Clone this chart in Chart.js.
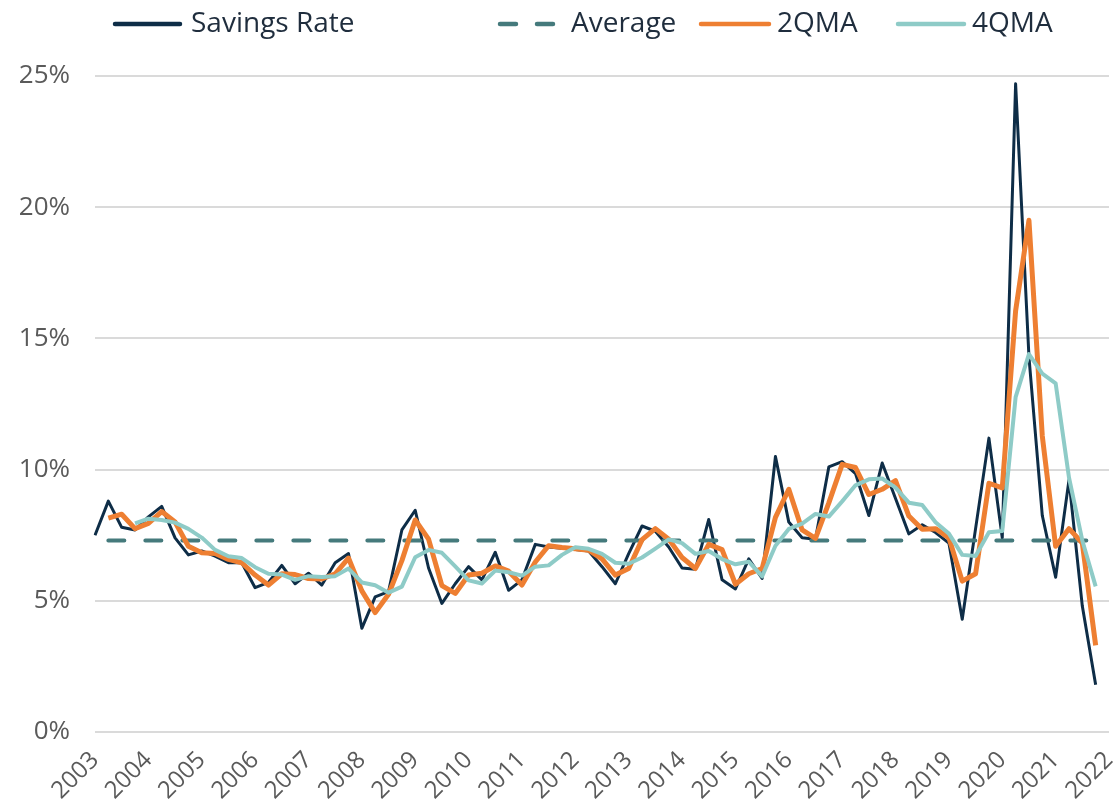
<!DOCTYPE html>
<html>
<head>
<meta charset="utf-8">
<script src="https://cdn.jsdelivr.net/npm/chart.js@4.4.1/dist/chart.umd.min.js"></script>
<style>
  html, body { margin: 0; padding: 0; background: #ffffff; }
  #wrap { position: relative; width: 1117px; height: 807px; }
</style>
</head>
<body>
<div id="wrap"><canvas id="c" width="1117" height="807"></canvas></div>
<script>
// ---- data ----
const years = [2003, 2004, 2005, 2006, 2007, 2008, 2009, 2010, 2011, 2012,
               2013, 2014, 2015, 2016, 2017, 2018, 2019, 2020, 2021, 2022];
const quarterNames = ['Q1', 'Q2', 'Q3', 'Q4'];
const quarterLabels = years.flatMap(y => quarterNames.map(q => y + ' ' + q)).slice(0, 77);

const savingsRate = [7.5, 8.8, 7.8, 7.7, 8.2, 8.6, 7.4, 6.75, 6.9, 6.7,
  6.45, 6.45, 5.5, 5.7, 6.35, 5.65, 6.05, 5.6, 6.45, 6.8,
  3.95, 5.15, 5.35, 7.7, 8.45, 6.25, 4.9, 5.65, 6.3, 5.8,
  6.85, 5.4, 5.8, 7.15, 7.05, 7.0, 6.95, 6.9, 6.3, 5.65,
  6.8, 7.85, 7.65, 7.05, 6.25, 6.2, 8.1, 5.8, 5.45, 6.6,
  5.85, 10.5, 8.0, 7.4, 7.35, 10.1, 10.3, 9.85, 8.25, 10.25,
  8.9, 7.55, 7.9, 7.6, 7.2, 4.3, 7.75, 11.2, 7.4, 24.7,
  14.3, 8.25, 5.9, 9.6, 4.8, 1.8];

const qma2 = [null, 8.15, 8.3, 7.75, 7.95, 8.4, 8.0, 7.08, 6.83, 6.8,
  6.58, 6.45, 5.98, 5.6, 6.03, 6.0, 5.85, 5.83, 6.03, 6.63,
  5.38, 4.55, 5.25, 6.53, 8.08, 7.35, 5.58, 5.28, 5.98, 6.05,
  6.33, 6.13, 5.6, 6.48, 7.1, 7.03, 6.98, 6.93, 6.6, 5.98,
  6.23, 7.33, 7.75, 7.35, 6.65, 6.23, 7.15, 6.95, 5.63, 6.03,
  6.23, 8.18, 9.25, 7.7, 7.38, 8.73, 10.2, 10.08, 9.05, 9.25,
  9.58, 8.23, 7.73, 7.75, 7.4, 5.75, 6.03, 9.48, 9.3, 16.05,
  19.5, 11.28, 7.08, 7.75, 7.2, 3.3];

const qma4 = [null, null, null, 7.95, 8.13, 8.08, 7.98, 7.74, 7.41, 6.94,
  6.7, 6.63, 6.28, 6.03, 6.0, 5.8, 5.94, 5.91, 5.94, 6.23,
  5.7, 5.59, 5.31, 5.54, 6.66, 6.94, 6.83, 6.31, 5.78, 5.66,
  6.15, 6.09, 5.96, 6.3, 6.35, 6.75, 7.04, 6.98, 6.79, 6.45,
  6.41, 6.65, 6.99, 7.34, 7.2, 6.79, 6.9, 6.59, 6.39, 6.49,
  5.93, 7.1, 7.74, 7.94, 8.31, 8.21, 8.79, 9.4, 9.63, 9.66,
  9.31, 8.74, 8.65, 7.99, 7.56, 6.75, 6.71, 7.61, 7.66, 12.76,
  14.4, 13.66, 13.29, 9.7, 7.3, 5.55];

const averageRate = 7.3;
const averageFrom = 1, averageTo = 75;   // quarter index span of the average line
const averageSeries = quarterLabels.map((_, i) => (i >= averageFrom && i <= averageTo) ? averageRate : null);

const seriesNames = ['Savings Rate', 'Average', '2QMA', '4QMA'];
const yTickValues = [0, 5, 10, 15, 20, 25];

// ---- styles ----
const FONT = "'Open Sans', 'Noto Sans', sans-serif";
const COLORS = { sr: '#0e2d47', avg: '#457a7c', q2: '#ee7f32', q4: '#8ecbc7' };

// custom legend drawn at fixed slots (like the original)
const legendSlots = [
  { x0: 115, x1: 180, tx: 191 },
  { x0: 500, x1: 553, tx: 571 },
  { x0: 701, x1: 769, tx: 777 },
  { x0: 898, x1: 964, tx: 972 }
];
const legendPlugin = {
  id: 'slotLegend',
  afterDraw(chart) {
    const ctx = chart.ctx;
    const y = 24;
    chart.data.datasets.forEach((ds, i) => {
      const s = legendSlots[i];
      ctx.save();
      ctx.strokeStyle = ds.borderColor;
      ctx.lineWidth = 4.5;
      ctx.lineCap = 'round';
      ctx.setLineDash(ds.borderDash || []);
      ctx.beginPath();
      ctx.moveTo(s.x0, y);
      ctx.lineTo(s.x1, y);
      ctx.stroke();
      ctx.setLineDash([]);
      ctx.fillStyle = '#1f2d3d';
      ctx.font = '28px ' + FONT;
      ctx.textBaseline = 'middle';
      ctx.textAlign = 'left';
      ctx.fillText(ds.label, s.tx, y);
      ctx.restore();
    });
  }
};

const ctx = document.getElementById('c').getContext('2d');
new Chart(ctx, {
  type: 'line',
  data: {
    labels: quarterLabels,
    datasets: [
      { label: seriesNames[0], data: savingsRate, borderColor: COLORS.sr, borderWidth: 3, order: 4 },
      { label: seriesNames[1], data: averageSeries, borderColor: COLORS.avg, borderWidth: 4,
        borderDash: [16, 21], borderCapStyle: 'round', order: 3 },
      { label: seriesNames[2], data: qma2, borderColor: COLORS.q2, borderWidth: 5, order: 2 },
      { label: seriesNames[3], data: qma4, borderColor: COLORS.q4, borderWidth: 4, order: 1 }
    ]
  },
  options: {
    responsive: false,
    animation: false,
    devicePixelRatio: 1,
    layout: { padding: { top: 76, right: 8, left: 0, bottom: 0 } },
    elements: {
      point: { radius: 0, hoverRadius: 0 },
      line: { tension: 0, fill: false, borderJoinStyle: 'round' }
    },
    plugins: {
      legend: { display: false },
      tooltip: { enabled: false }
    },
    scales: {
      x: {
        type: 'category',
        offset: false,
        grid: { display: false, drawTicks: false },
        border: { display: false },
        ticks: {
          autoSkip: false,
          maxRotation: 45,
          minRotation: 45,
          padding: 14,
          color: '#5a5a5a',
          font: { family: FONT, size: 24 },
          callback: function (v, i) {
            const l = quarterLabels[i];
            return l.endsWith('Q1') ? l.slice(0, 4) : null;
          }
        },
        afterFit: s => { s.height = 75; s.paddingRight = 0; s.paddingLeft = 0; }
      },
      y: {
        min: 0,
        max: 25,
        afterBuildTicks: s => { s.ticks = yTickValues.map(v => ({ value: v })); },
        grid: { color: '#dadada', lineWidth: 2, drawTicks: false },
        border: { display: false },
        ticks: {
          padding: 25,
          color: '#5a5a5a',
          font: { family: FONT, size: 26 },
          callback: v => v + '%'
        },
        afterFit: s => { s.width = 95; }
      }
    }
  },
  plugins: [legendPlugin]
});
</script>
</body>
</html>
